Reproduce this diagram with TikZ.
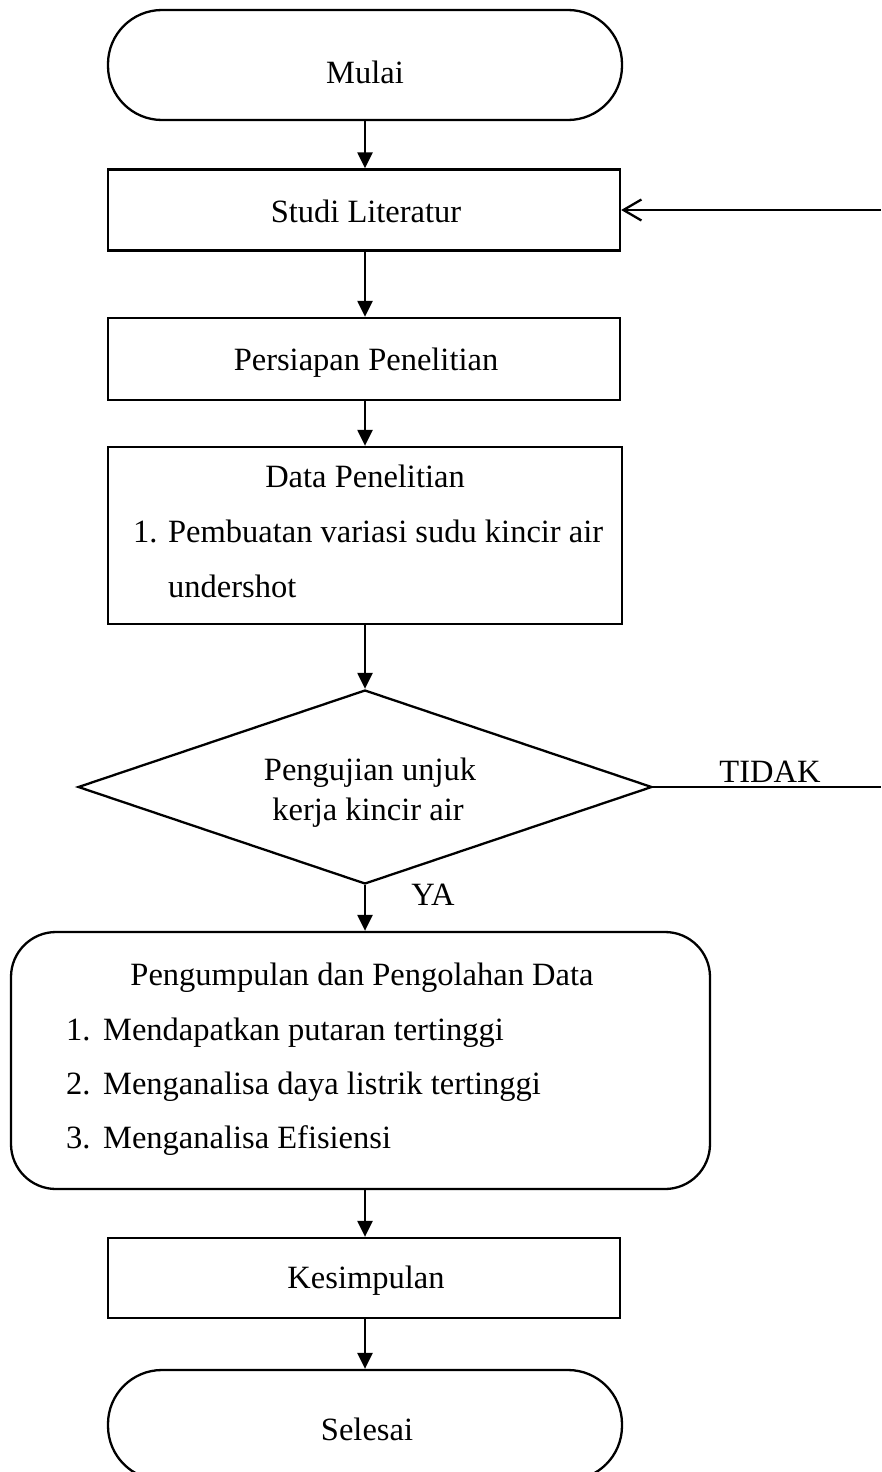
\documentclass[tikz,border=0pt]{standalone}
\usepackage{fontspec}
\setmainfont{Liberation Serif}
\usetikzlibrary{arrows.meta,shapes.geometric}
\begin{document}
\begin{tikzpicture}[x=1pt,y=-1pt,line width=2.3pt,
  stepbox/.style={draw,rectangle,minimum width=512pt,inner sep=0pt},
  term/.style={draw,rectangle,rounded corners=54pt,minimum width=514pt,minimum height=110pt,inner sep=0pt},
  lbl/.style={anchor=base,inner sep=0pt,font=\fontsize{32.5}{38}\selectfont},
  lbll/.style={anchor=base west,inner sep=0pt,font=\fontsize{32.5}{38}\selectfont},
  flow/.style={-{Triangle[length=16pt,width=15pt]}},
  back/.style={-{Straight Barb[length=18pt,width=21pt]}}]
\useasboundingbox (0,0) rectangle (881,1472);

% Mulai
\node[term] (mulai) at (365,65) {};
\node[lbl] (tmulai) at (365,83) {Mulai};

% Studi Literatur
\node[stepbox,minimum height=81pt] (studi) at (364,210) {};
\node[lbl] (tstudi) at (366,222) {Studi Literatur};

% Persiapan Penelitian
\node[stepbox,minimum height=82pt] (persiapan) at (364,359) {};
\node[lbl] (tpersiapan) at (366,370) {Persiapan Penelitian};

% Data Penelitian
\node[draw,rectangle,minimum width=514pt,minimum height=177pt,inner sep=0pt] (data) at (365,535.5) {};
\node[lbl] (tdata) at (365,487) {Data Penelitian};
\node[lbll] (ndata) at (132,542) {1.};
\node[lbll] (tdata1) at (167,542) {Pembuatan variasi sudu kincir air};
\node[lbll] (tdata2) at (167,597) {undershot};

% Decision
\node[draw,diamond,aspect=2.96,minimum width=574pt,minimum height=194pt,inner sep=0pt] (dia) at (365,787) {};
\node[lbl] (tdia1) at (370,780) {Pengujian unjuk};
\node[lbl] (tdia2) at (368,820) {kerja kincir air};

% Pengumpulan dan Pengolahan Data
\node[draw,rectangle,rounded corners=45pt,minimum width=699pt,minimum height=257pt,inner sep=0pt] (peng) at (360.5,1060.5) {};
\node[lbl] (tpeng) at (362,985) {Pengumpulan dan Pengolahan Data};
\node[lbll] (np1) at (65,1040) {1.};
\node[lbll] (tp1) at (102,1040) {Mendapatkan putaran tertinggi};
\node[lbll] (np2) at (65,1094) {2.};
\node[lbll] (tp2) at (102,1094) {Menganalisa daya listrik tertinggi};
\node[lbll] (np3) at (65,1148) {3.};
\node[lbll] (tp3) at (102,1148) {Menganalisa Efisiensi};

% Kesimpulan
\node[stepbox,minimum height=80pt] (kes) at (364,1278) {};
\node[lbl] (tkes) at (366,1288) {Kesimpulan};

% Selesai
\node[term] (selesai) at (365,1425) {};
\node[lbl] (tselesai) at (367,1440) {Selesai};

% connectors
\draw[flow] (mulai.south) -- (mulai.south |- studi.north);
\draw[flow] (studi.south -| mulai.south) -- (mulai.south |- persiapan.north);
\draw[flow] (persiapan.south -| mulai.south) -- (mulai.south |- data.north);
\draw[flow] (data.south) -- (dia.north);
\draw[flow] (dia.south) -- (dia.south |- peng.north);
\node[lbl] (ya) at (433,905) {YA};
\draw[flow] (peng.south -| data.south) -- (data.south |- kes.north);
\draw[flow] (kes.south -| data.south) -- (selesai.north);

\coordinate (tidakend) at (881,787);
\draw (dia.east) -- (tidakend);
\node[lbl] (tidak) at (770,782) {TIDAK};

\coordinate (backstart) at (881,210);
\draw[back] (backstart) -- (studi.east);
\end{tikzpicture}
\end{document}
